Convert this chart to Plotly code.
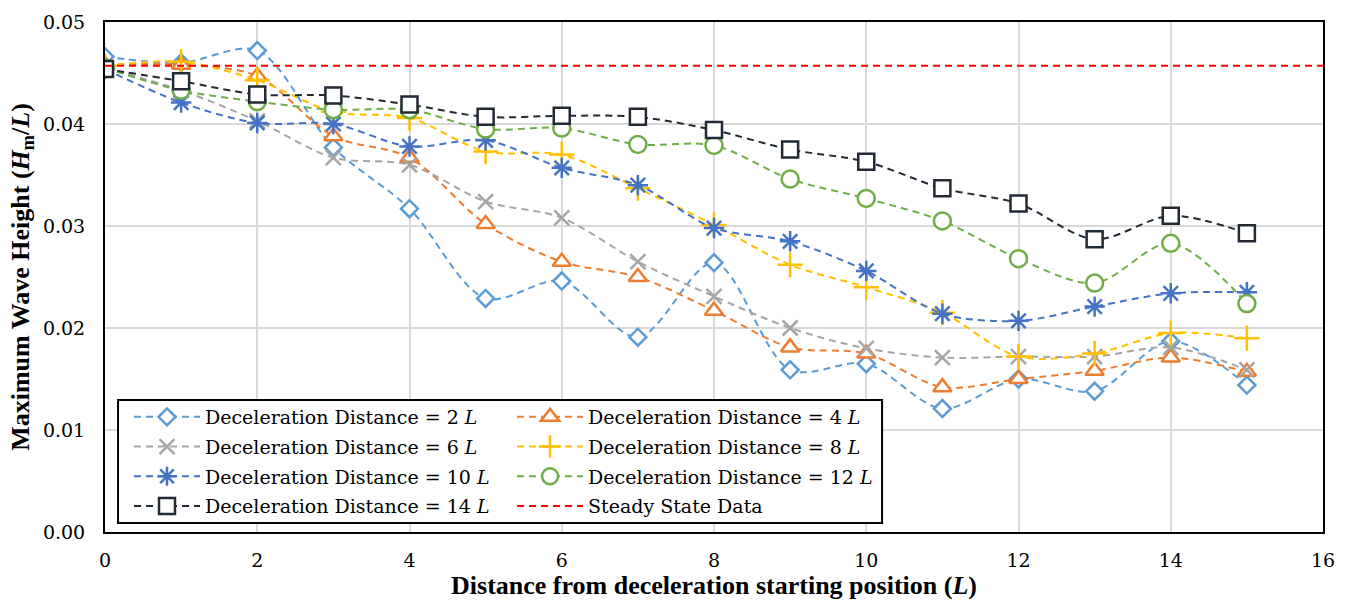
import plotly.graph_objects as go

# Positions along the tank, in wavelengths L
x_pos = list(range(16))

# Maximum wave height H_m/L for each deceleration distance
h_2L = [0.0466, 0.0460, 0.0472, 0.0377, 0.0317, 0.0229, 0.0246, 0.0191,
        0.0264, 0.0159, 0.0165, 0.0121, 0.0150, 0.0138, 0.0187, 0.0144]
h_4L = [0.0458, 0.0458, 0.0447, 0.0388, 0.0367, 0.0302, 0.0265, 0.0250,
        0.0217, 0.0181, 0.0175, 0.0142, 0.0150, 0.0158, 0.0171, 0.0157]
h_6L = [0.0455, 0.0433, 0.0403, 0.0367, 0.0360, 0.0324, 0.0308, 0.0265,
        0.0231, 0.0200, 0.0180, 0.0171, 0.0172, 0.0172, 0.0181, 0.0159]
h_8L = [0.0457, 0.0461, 0.0443, 0.0412, 0.0406, 0.0373, 0.0370, 0.0337,
        0.0301, 0.0262, 0.0240, 0.0215, 0.0172, 0.0175, 0.0195, 0.0190]
h_10L = [0.0454, 0.0421, 0.0401, 0.0400, 0.0378, 0.0384, 0.0357, 0.0340,
         0.0298, 0.0285, 0.0256, 0.0214, 0.0207, 0.0221, 0.0234, 0.0235]
h_12L = [0.0455, 0.0433, 0.0422, 0.0414, 0.0414, 0.0395, 0.0396, 0.0380,
         0.0379, 0.0346, 0.0327, 0.0305, 0.0268, 0.0244, 0.0283, 0.0224]
h_14L = [0.0454, 0.0442, 0.0429, 0.0428, 0.0419, 0.0407, 0.0408, 0.0407,
         0.0394, 0.0375, 0.0363, 0.0337, 0.0322, 0.0287, 0.0310, 0.0293]

# Steady-state reference level
steady_x = [0, 16]
steady_h = [0.0457, 0.0457]

series_names = [
    "Deceleration Distance = 2 <i>L</i>",
    "Deceleration Distance = 4 <i>L</i>",
    "Deceleration Distance = 6 <i>L</i>",
    "Deceleration Distance = 8 <i>L</i>",
    "Deceleration Distance = 10 <i>L</i>",
    "Deceleration Distance = 12 <i>L</i>",
    "Deceleration Distance = 14 <i>L</i>",
]
series_values = [h_2L, h_4L, h_6L, h_8L, h_10L, h_12L, h_14L]
steady_name = "Steady State Data"

TITLE_FONT = "Liberation Serif, Times New Roman, serif"
TEXT_FONT = "DejaVu Serif, serif"

styles = [
    dict(color="#5B9BD5", symbol="diamond", size=13, fill="white"),
    dict(color="#ED7D31", symbol="triangle-up", size=16, fill="white"),
    dict(color="#A5A5A5", symbol="x-thin-open", size=15, fill=None),
    dict(color="#FFC000", symbol="cross-thin-open", size=18, fill=None),
    dict(color="#4472C4", symbol="asterisk-open", size=17, fill=None),
    dict(color="#70AD47", symbol="circle", size=17, fill="white"),
    dict(color="#222A35", symbol="square", size=16, fill="white"),
]
legend_of = ["legend", "legend2", "legend", "legend2",
             "legend", "legend2", "legend"]

fig = go.Figure()

for i, (name, vals, st, lg) in enumerate(
        zip(series_names, series_values, styles, legend_of)):
    fig.add_trace(go.Scatter(
        x=x_pos, y=vals, name=name, mode="lines+markers",
        legend=lg, legendgroup=f"g{i}",
        line=dict(color=st["color"], width=2, dash="7px,5px",
                  shape="spline", smoothing=0.9),
        marker=dict(symbol=st["symbol"], size=st["size"],
                    color=st["fill"] if st["fill"] else st["color"],
                    line=dict(color=st["color"], width=2.5)),
    ))

fig.add_trace(go.Scatter(
    x=steady_x, y=steady_h, name=steady_name, mode="lines",
    legend="legend2", legendgroup="steady",
    line=dict(color="#FF0000", width=2, dash="7px,5px"),
))

legend_common = dict(
    xanchor="left", yanchor="top", bgcolor="rgba(0,0,0,0)", borderwidth=0,
    font=dict(family=TEXT_FONT, size=19, color="black"),
    itemwidth=66, tracegroupgap=2, traceorder="grouped",
    groupclick="toggleitem",
)

fig.update_layout(
    width=1352, height=603,
    margin=dict(l=105, r=29, t=22, b=71),
    paper_bgcolor="white", plot_bgcolor="white",
    font=dict(family=TEXT_FONT, color="black"),
    showlegend=True,
    legend=dict(x=0.0197, y=0.2627, **legend_common),
    legend2=dict(x=0.3342, y=0.2627, **legend_common),
    shapes=[dict(
        type="rect", xref="paper", yref="paper",
        x0=0.0107, x1=0.638, y0=0.0176, y1=0.2588,
        line=dict(color="black", width=2), fillcolor="white", layer="above",
    )],
    xaxis=dict(
        range=[0, 16], tickmode="linear", tick0=0, dtick=2,
        showgrid=True, gridcolor="#D9D9D9", gridwidth=1.5,
        showline=True, linecolor="black", linewidth=2, mirror=True,
        ticks="", zeroline=False, ticklabelstandoff=10,
        tickfont=dict(family=TEXT_FONT, size=19, color="black"),
        title=dict(text="<b>Distance from deceleration starting position (<i>L</i>)</b>",
                   font=dict(family=TITLE_FONT, size=26, color="black"), standoff=2),
    ),
    yaxis=dict(
        range=[0, 0.05], tickmode="linear", tick0=0, dtick=0.01,
        tickformat=".2f",
        showgrid=True, gridcolor="#D9D9D9", gridwidth=1.5,
        showline=True, linecolor="black", linewidth=2, mirror=True,
        ticks="", zeroline=False, ticklabelstandoff=14,
        tickfont=dict(family=TEXT_FONT, size=19, color="black"),
        title=dict(text="<b>Maximum Wave Height (<i>H</i><sub>m</sub>/<i>L</i>)</b>",
                   font=dict(family=TITLE_FONT, size=26, color="black"), standoff=6),
    ),
)

fig.write_html("out.html")
